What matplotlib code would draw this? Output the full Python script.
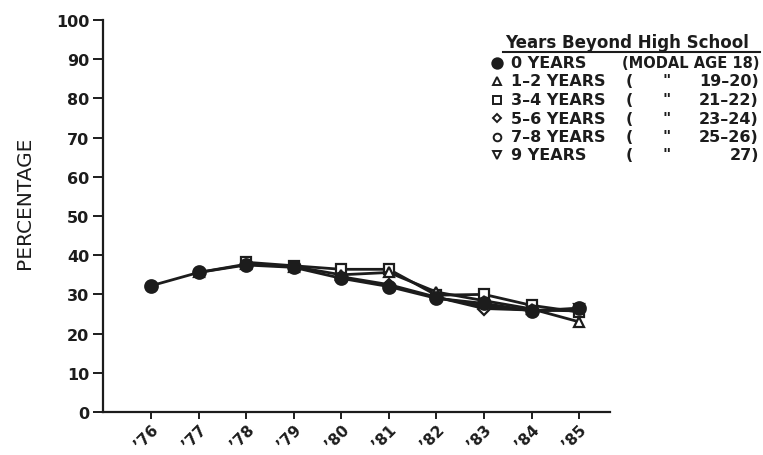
import numpy as np
import matplotlib
matplotlib.use('Agg')
import matplotlib.pyplot as plt
from matplotlib.lines import Line2D

# Data
years = [1976, 1977, 1978, 1979, 1980, 1981, 1982, 1983, 1984, 1985]
year_labels = ["\u201976", "\u201977", "\u201978", "\u201979", "\u201980",
               "\u201981", "\u201982", "\u201983", "\u201984", "\u201985"]
nan = np.nan
zero_yrs = [32.2, 35.6, 37.5, 36.9, 34.1, 32.0, 29.0, 27.7, 25.8, 26.5]
one_two_yrs = [nan, 35.6, 37.7, 37.1, 35.0, 35.6, 30.6, 28.4, 26.3, 23.0]
three_four_yrs = [nan, nan, 38.2, 37.3, 36.4, 36.4, 29.8, 30.0, 27.2, 25.5]
five_six_yrs = [nan, nan, nan, nan, 34.5, 32.5, 29.3, 26.4, 26.0, 25.8]
seven_eight_yrs = [nan, nan, nan, nan, nan, nan, 29.2, 27.0, 25.9, 26.2]
nine_yrs = [nan, nan, nan, nan, nan, nan, nan, nan, 25.8, 26.3]

series_names = ['0 YEARS', '1\u20132 YEARS', '3\u20134 YEARS', '5\u20136 YEARS',
                '7\u20138 YEARS', '9 YEARS']
series_ages = ['18)', '19\u201320)', '21\u201322)', '23\u201324)', '25\u201326)', '27)']
series_vals = [zero_yrs, one_two_yrs, three_four_yrs, five_six_yrs,
               seven_eight_yrs, nine_yrs]
markers = ['o', '^', 's', 'D', 'o', 'v']
msizes = [9, 7, 7, 6, 7, 7]

ink = '#1c1c1c'
plt.rcParams['font.family'] = 'DejaVu Sans'

fig = plt.figure(figsize=(7.63, 4.56), dpi=100)
ax = fig.add_axes([103 / 763, 1 - 413 / 456, (610 - 103) / 763, (413 - 21) / 456])

# open-marker series first, filled circles on top
for i in range(len(series_vals) - 1, -1, -1):
    filled = i == 0
    ax.plot(years, series_vals[i], color=ink, lw=2.0, marker=markers[i],
            markersize=msizes[i], markerfacecolor=ink if filled else 'white',
            markeredgecolor=ink, markeredgewidth=1.6, zorder=10 - i)

ax.set_xlim(1974.99, 1985.65)
ax.set_ylim(0, 100)
ax.set_yticks(range(0, 101, 10))
ax.set_xticks(years)
ax.set_xticklabels(year_labels, rotation=45, ha='right', va='top',
                   rotation_mode='anchor', fontsize=11, fontweight='bold', color=ink)
for lab in ax.get_yticklabels():
    lab.set_fontsize(11.5)
    lab.set_fontweight('bold')
    lab.set_color(ink)
ax.tick_params(axis='y', direction='out', length=7, width=1.4, color=ink, pad=3)
ax.tick_params(axis='x', direction='out', length=5, width=1.4, color=ink, pad=2)
for side in ['top', 'right']:
    ax.spines[side].set_visible(False)
for side in ['left', 'bottom']:
    ax.spines[side].set_linewidth(1.6)
    ax.spines[side].set_color(ink)

fig.text(25 / 763, 1 - 203 / 456, 'PERCENTAGE', rotation=90, ha='center',
         va='center', fontsize=14.5, color=ink)

# legend drawn by hand to keep the column layout
fs = 11.5
fig.text(505 / 763, 1 - 43 / 456, 'Years Beyond High School', fontsize=12,
         fontweight='bold', color=ink, va='center', ha='left')
fig.add_artist(Line2D([503 / 763, 760 / 763], [1 - 53 / 456] * 2, color=ink, lw=1.5))
for i in range(len(series_names)):
    yy = 1 - (63.5 + i * 18.5) / 456
    filled = i == 0
    fig.add_artist(Line2D([497 / 763], [yy], marker=markers[i], markersize=msizes[i] - 1.5,
                          markerfacecolor=ink if filled else 'white',
                          markeredgecolor=ink, markeredgewidth=1.4, linestyle='none'))
    fig.text(511 / 763, yy, series_names[i], fontsize=fs, fontweight='bold',
             color=ink, va='center', ha='left')
    if i == 0:
        fig.text(759 / 763, yy, '(MODAL AGE ' + series_ages[i], fontsize=10.5,
                 fontweight='bold', color=ink, va='center', ha='right')
    else:
        fig.text(626 / 763, yy, '(', fontsize=fs, fontweight='bold',
                 color=ink, va='center', ha='left')
        fig.text(667 / 763, yy, '"', fontsize=fs, fontweight='bold',
                 color=ink, va='center', ha='center')
        fig.text(759 / 763, yy, series_ages[i], fontsize=fs, fontweight='bold',
                 color=ink, va='center', ha='right')

fig.savefig('out.png', dpi=100, facecolor='white')
